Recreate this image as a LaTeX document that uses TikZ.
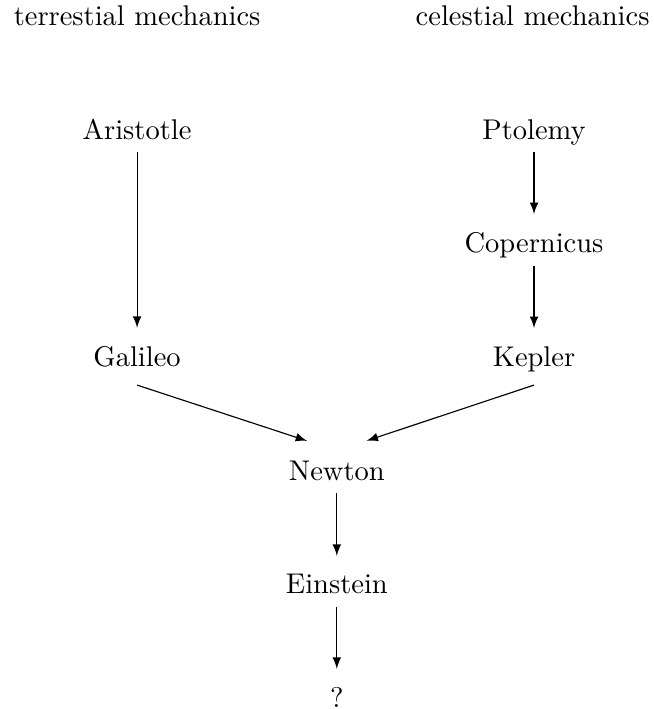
\documentclass[tikz,border=0pt]{standalone}
\usetikzlibrary{calc}
\begin{document}
\begin{tikzpicture}[x=1pt,y=1pt,
  lbl/.style={anchor=base, inner sep=3.33pt, text depth=1pt},
  arr/.style={-latex, shorten >=3pt},
  darr/.style={-latex, shorten >=11pt}]
\useasboundingbox (0,0) rectangle (229.5,-248.8);
\node[lbl] (terr) at (48.1,-9.1) {terrestial mechanics};
\node[lbl] (cel) at (186.9,-9.1) {celestial mechanics};
\node[lbl] (aristotle) at (48.1,-48.8) {Aristotle};
\node[lbl] (ptolemy) at (187.4,-48.8) {Ptolemy};
\node[lbl] (copernicus) at (187.4,-88.7) {Copernicus};
\node[lbl] (galileo) at (48.1,-128.6) {Galileo};
\node[lbl] (kepler) at (187.4,-128.6) {Kepler};
\node[lbl] (newton) at (118.2,-168.5) {Newton};
\node[lbl] (einstein) at (118.2,-208.4) {Einstein};
\node[lbl] (q) at (118.2,-248.3) {?};
\draw[arr] (aristotle) -- (galileo);
\draw[arr] (ptolemy) -- (copernicus);
\draw[arr] (copernicus) -- (kepler);
\draw[darr] ($(galileo.south)+(0,-2pt)$) -- (newton.north);
\draw[darr] ($(kepler.south)+(0,-2pt)$) -- (newton.north);
\draw[arr] (newton) -- (einstein);
\draw[arr] (einstein) -- (q);
\end{tikzpicture}
\end{document}
